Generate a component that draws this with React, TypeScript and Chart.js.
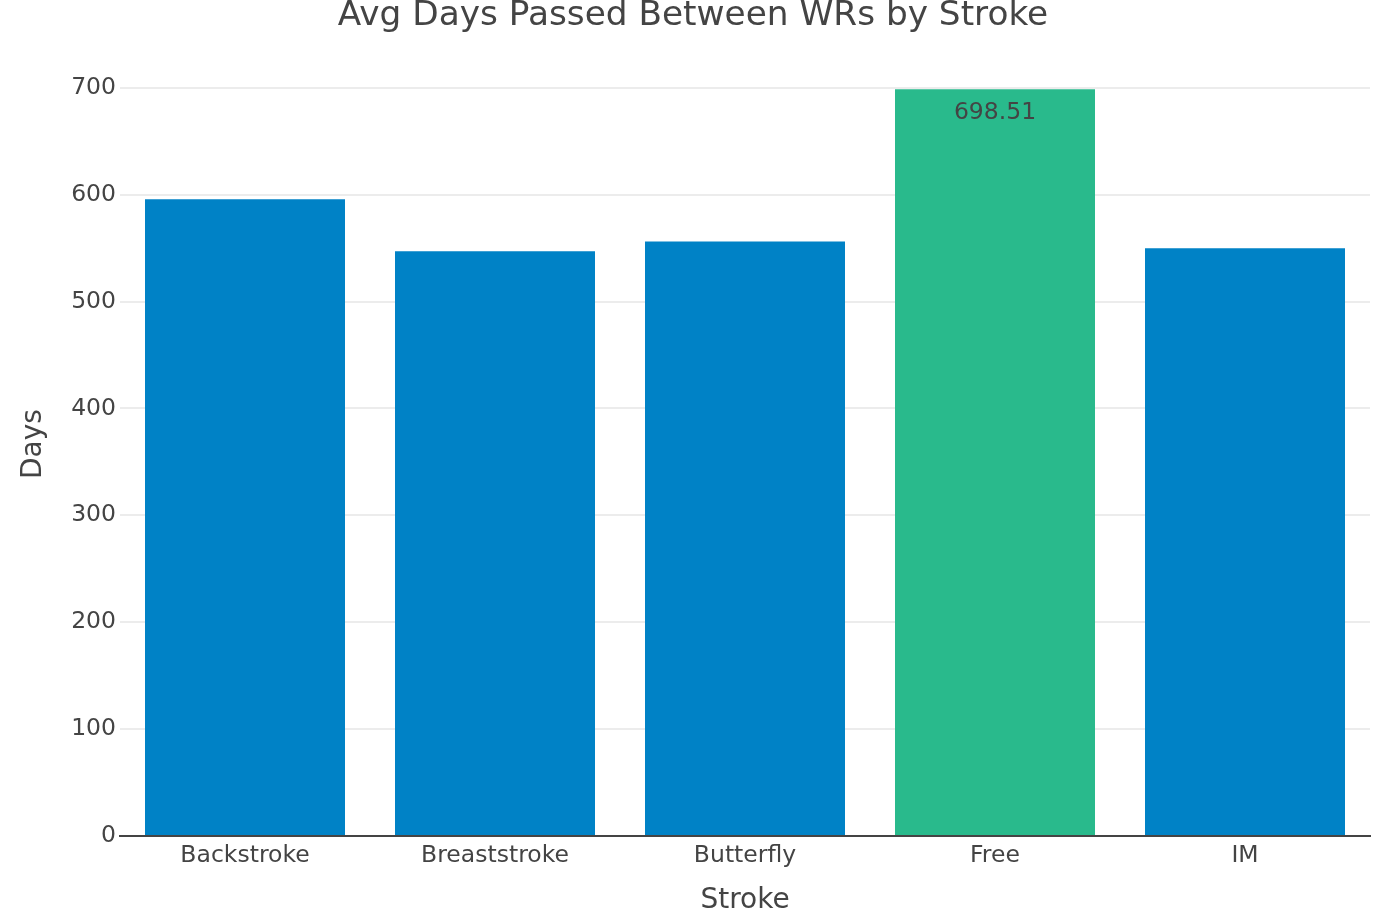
import React, { useEffect, useRef } from "react";
import { Chart, registerables } from "chart.js";

Chart.register(...registerables);

const CATEGORIES = ["Backstroke", "Breaststroke", "Butterfly", "Free", "IM"];
const AVG_DAYS = [595.6, 546.9, 556.2, 698.51, 549.7];
const BAR_TEXT = ["", "", "", "698.51", ""];
const Y_TICKS = [0, 100, 200, 300, 400, 500, 600, 700];
const Y_MAX = 733.4;
const TITLE = "Avg Days Passed Between WRs by Stroke";
const X_TITLE = "Stroke";
const Y_TITLE = "Days";

const FONT = "'DejaVu Sans', Verdana, sans-serif";
const TEXT = "#444444";
const BLUE = "#0082c6";
const GREEN = "#29ba8c";
const GRID = "#ececec";

const overlay = {
  id: "overlay",
  afterDatasetsDraw(chart: any) {
    const ctx = chart.ctx;
    const meta = chart.getDatasetMeta(0);
    ctx.save();
    ctx.fillStyle = TEXT;
    ctx.textAlign = "center";
    ctx.textBaseline = "alphabetic";
    ctx.font = `23.5px ${FONT}`;
    meta.data.forEach((bar: any, i: number) => {
      if (BAR_TEXT[i]) ctx.fillText(BAR_TEXT[i], bar.x, bar.y + 30);
    });
    ctx.font = `34.3px ${FONT}`;
    ctx.fillText(TITLE, chart.width / 2, 24.5);
    ctx.restore();
  },
};

export default function App() {
  const ref = useRef<HTMLCanvasElement | null>(null);

  useEffect(() => {
    if (!ref.current) return;
    const maxVal = Math.max(...AVG_DAYS);
    const chart = new Chart(ref.current, {
      type: "bar",
      data: {
        labels: CATEGORIES,
        datasets: [
          {
            label: Y_TITLE,
            data: AVG_DAYS,
            backgroundColor: AVG_DAYS.map((v) => (v === maxVal ? GREEN : BLUE)),
            borderWidth: 0,
            categoryPercentage: 1,
            barPercentage: 0.8,
          },
        ],
      },
      options: {
        responsive: false,
        animation: false,
        devicePixelRatio: 1,
        layout: { padding: { top: 52, right: 16, left: 0, bottom: 0 } },
        plugins: {
          legend: { display: false },
          tooltip: { enabled: false },
          title: { display: false },
        },
        scales: {
          x: {
            grid: { display: false, drawTicks: false },
            border: { display: true, color: TEXT, width: 2, z: 1 },
            ticks: {
              color: TEXT,
              font: { family: FONT, size: 23.5 },
              padding: 5.5,
              maxRotation: 0,
              autoSkip: false,
            },
            title: {
              display: true,
              text: X_TITLE,
              color: TEXT,
              font: { family: FONT, size: 28, lineHeight: 0.8 },
              padding: { top: 0, bottom: 0 },
            },
            afterFit: (s: any) => {
              s.height = 76;
            },
          },
          y: {
            min: 0,
            max: Y_MAX,
            afterBuildTicks: (s: any) => {
              s.ticks = Y_TICKS.map((value) => ({ value }));
            },
            grid: {
              color: (c: any) => (c.tick && c.tick.value === 0 ? TEXT : GRID),
              lineWidth: 2,
              drawTicks: false,
            },
            border: { display: false },
            ticks: {
              color: TEXT,
              font: { family: FONT, size: 23.5 },
              padding: 4,
            },
            title: {
              display: true,
              text: Y_TITLE,
              color: TEXT,
              font: { family: FONT, size: 28, lineHeight: 1 },
              padding: { top: 20, bottom: 0 },
            },
            afterFit: (s: any) => {
              s.width = 120;
            },
          },
        },
      },
      plugins: [overlay],
    });
    return () => chart.destroy();
  }, []);

  return (
    <canvas
      ref={ref}
      width={1386}
      height={912}
      style={{ position: "absolute", top: 0, left: 0, display: "block", background: "#fff" }}
    />
  );
}
